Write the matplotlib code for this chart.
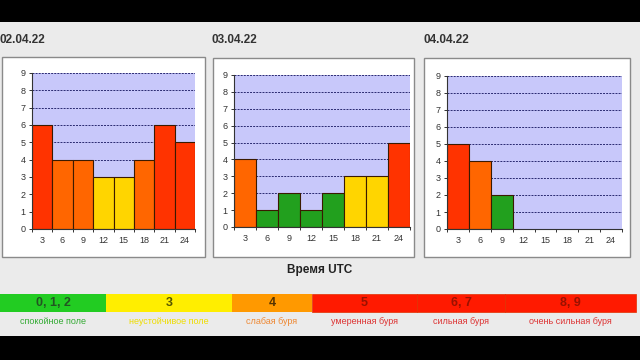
import matplotlib
matplotlib.use("Agg")
import matplotlib.pyplot as plt
from matplotlib.patches import Rectangle

plt.rcParams["font.family"] = ["Liberation Sans", "DejaVu Sans"]

hours = ["3", "6", "9", "12", "15", "18", "21", "24"]
dates = ["02.04.22", "03.04.22", "04.04.22"]
kp_day1 = [6, 4, 4, 3, 3, 4, 6, 5]
kp_day2 = [4, 1, 2, 1, 2, 3, 3, 5]
kp_day3 = [5, 4, 2]
legend_levels = ["0, 1, 2", "3", "4", "5", "6, 7", "8, 9"]
legend_names = ["спокойное поле", "неустойчивое поле", "слабая буря",
                "умеренная буря", "сильная буря", "очень сильная буря"]

W, H = 640, 360
fig = plt.figure(figsize=(6.4, 3.6), dpi=100, facecolor="#ebebeb")

def px_rect(x0, y0, x1, y1, **kw):
    fig.patches.append(Rectangle((x0 / W, 1 - y1 / H), (x1 - x0) / W, (y1 - y0) / H,
                                 transform=fig.transFigure, **kw))

# black bands
px_rect(0, 0, 640, 22, facecolor="black", edgecolor="none", zorder=-2)
px_rect(0, 336, 640, 360, facecolor="black", edgecolor="none", zorder=-2)

def bar_color(v):
    if v <= 2:
        return "#22a01e"
    if v == 3:
        return "#ffd500"
    if v == 4:
        return "#ff6600"
    return "#ff3300"

boxes = [(2, 57, 205, 257), (213, 58, 414, 257), (424, 58, 630, 257)]
axes_px = [(32, 73, 195, 229), (234, 75, 410, 227), (447, 76, 622, 229)]
title_px = [(0, 40), (212, 40), (424, 40)]
data = [kp_day1, kp_day2, kp_day3]

for i in range(3):
    bx0, by0, bx1, by1 = boxes[i]
    px_rect(bx0, by0, bx1, by1, facecolor="white", edgecolor="#8a8a8a", linewidth=1.0, zorder=-1)
    tx, ty = title_px[i]
    fig.text(tx / W, 1 - ty / H, dates[i], fontsize=8.5, fontweight="bold",
             color="#333333", va="center", ha="left")
    ax0, ay0, ax1, ay1 = axes_px[i]
    ax = fig.add_axes([ax0 / W, 1 - ay1 / H, (ax1 - ax0) / W, (ay1 - ay0) / H])
    ax.set_zorder(2)
    ax.set_facecolor("#c8c8fa")
    vals = data[i]
    ax.bar(range(len(vals)), vals, width=1.0, color=[bar_color(v) for v in vals],
           edgecolor="#3a1a00", linewidth=0.8, zorder=3)
    ax.set_xlim(-0.5, 7.5)
    ax.set_ylim(0, 9)
    ax.set_yticks(range(10))
    ax.set_xticks(range(8))
    ax.set_xticklabels(hours)
    ax.set_xticks([x - 0.5 for x in range(9)], minor=True)
    ax.tick_params(axis="x", which="major", length=0, labelsize=6.5, colors="#333333", pad=5)
    ax.tick_params(axis="x", which="minor", length=2.5, width=0.7, color="#333333")
    ax.tick_params(axis="y", length=2.5, width=0.7, labelsize=6.5, colors="#333333", pad=2)
    for y in range(1, 10):
        ax.axhline(y, color="#2a2a70", linestyle=(0, (2.0, 1.2)), linewidth=0.7, zorder=1)
    for s in ["top", "right"]:
        ax.spines[s].set_visible(False)
    for s in ["left", "bottom"]:
        ax.spines[s].set_color("#333333")
        ax.spines[s].set_linewidth(0.8)
        ax.spines[s].set_zorder(4)

fig.text(320 / W, 1 - 270 / H, "Время UTC", fontsize=8.5, fontweight="bold",
         color="#222222", ha="center", va="center")

seg_x = [0, 106, 232, 312, 417, 505, 636]
seg_colors = ["#22cc22", "#ffee00", "#ff9900", "#ff1a00", "#ff1a00", "#ff1a00"]
text_colors = ["#33aa33", "#eedd00", "#ee8833", "#dd3333", "#dd3333", "#dd3333"]
num_colors = ["#225522", "#555500", "#553300", "#991100", "#991100", "#991100"]
for k in range(6):
    x0, x1 = seg_x[k], seg_x[k + 1]
    px_rect(x0, 294, x1, 312, facecolor=seg_colors[k], edgecolor="#e03000" if k >= 3 else "none",
            linewidth=0.5, zorder=-1)
    xc = (x0 + x1) / 2
    fig.text(xc / W, 1 - 303 / H, legend_levels[k], fontsize=9, fontweight="bold",
             color=num_colors[k], ha="center", va="center")
    fig.text(xc / W, 1 - 322 / H, legend_names[k], fontsize=6.5,
             color=text_colors[k], ha="center", va="center")

fig.savefig("out.png", dpi=100, facecolor=fig.get_facecolor())
